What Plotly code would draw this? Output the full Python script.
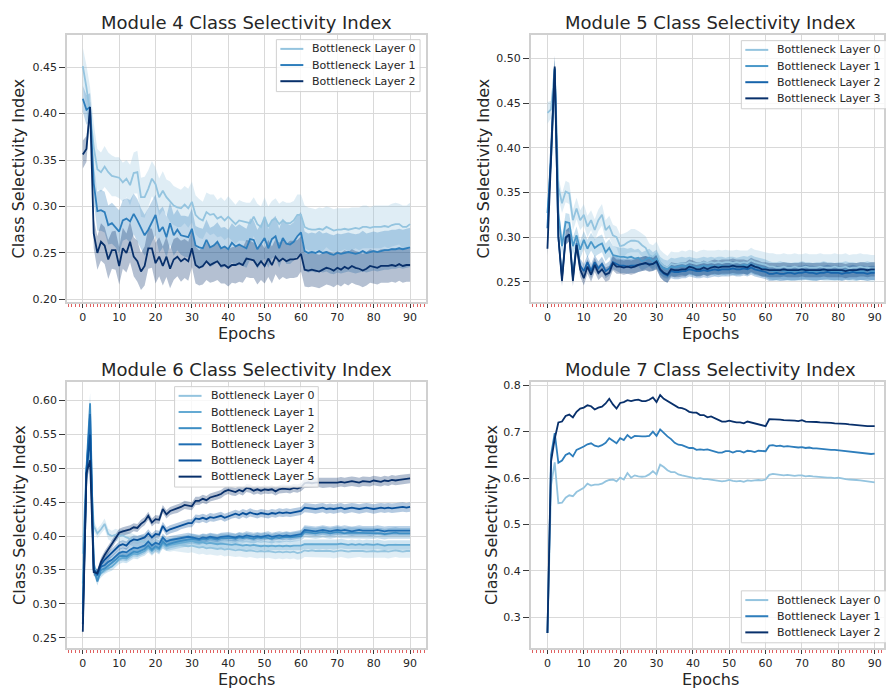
import plotly.graph_objects as go

W, H = 886, 692
FONT = "DejaVu Sans"
INK = "#262626"

epochs = list(range(91))
layer_names = ["Bottleneck Layer %d" % i for i in range(6)]

# ---------------- Module 4 (mean CSI per epoch, and CI half-width) ----------------
m4_l0 = [0.451, 0.428, 0.400, 0.364, 0.340, 0.337, 0.343, 0.337, 0.333, 0.332,
         0.331, 0.326, 0.330, 0.323, 0.336, 0.337, 0.310, 0.310, 0.319, 0.330,
         0.324, 0.310, 0.317, 0.310, 0.305, 0.301, 0.299, 0.298, 0.302, 0.298,
         0.305, 0.291, 0.287, 0.285, 0.294, 0.291, 0.292, 0.287, 0.289, 0.285,
         0.289, 0.285, 0.281, 0.285, 0.284, 0.283, 0.282, 0.289, 0.281, 0.278,
         0.289, 0.278, 0.285, 0.287, 0.281, 0.285, 0.282, 0.282, 0.285, 0.291,
         0.291, 0.278, 0.276, 0.275, 0.275, 0.276, 0.275, 0.278, 0.276, 0.274,
         0.275, 0.275, 0.276, 0.275, 0.276, 0.277, 0.276, 0.278, 0.278, 0.277,
         0.278, 0.278, 0.278, 0.279, 0.278, 0.280, 0.281, 0.281, 0.278, 0.278,
         0.281]
m4_l1 = [0.416, 0.404, 0.407, 0.325, 0.295, 0.296, 0.294, 0.280, 0.282, 0.278,
         0.273, 0.285, 0.287, 0.284, 0.292, 0.285, 0.276, 0.269, 0.275, 0.284,
         0.291, 0.273, 0.278, 0.267, 0.282, 0.269, 0.275, 0.269, 0.268, 0.267,
         0.276, 0.258, 0.256, 0.255, 0.264, 0.256, 0.258, 0.262, 0.255, 0.257,
         0.254, 0.261, 0.257, 0.259, 0.257, 0.255, 0.265, 0.264, 0.254, 0.260,
         0.266, 0.255, 0.265, 0.268, 0.255, 0.266, 0.260, 0.259, 0.262, 0.268,
         0.272, 0.252, 0.250, 0.251, 0.250, 0.252, 0.250, 0.251, 0.249, 0.248,
         0.250, 0.249, 0.250, 0.251, 0.250, 0.249, 0.250, 0.252, 0.250, 0.251,
         0.252, 0.251, 0.252, 0.253, 0.253, 0.254, 0.254, 0.255, 0.254, 0.255,
         0.256]
m4_l2 = [0.356, 0.362, 0.407, 0.271, 0.250, 0.262, 0.258, 0.243, 0.253, 0.253,
         0.236, 0.255, 0.250, 0.262, 0.246, 0.241, 0.230, 0.236, 0.255, 0.255,
         0.239, 0.246, 0.236, 0.246, 0.233, 0.243, 0.246, 0.241, 0.244, 0.241,
         0.255, 0.237, 0.234, 0.236, 0.241, 0.237, 0.239, 0.241, 0.236, 0.237,
         0.234, 0.237, 0.237, 0.239, 0.237, 0.244, 0.243, 0.242, 0.236, 0.241,
         0.236, 0.244, 0.237, 0.246, 0.241, 0.244, 0.241, 0.243, 0.243, 0.244,
         0.249, 0.232, 0.231, 0.232, 0.231, 0.230, 0.232, 0.234, 0.233, 0.231,
         0.234, 0.232, 0.235, 0.233, 0.236, 0.234, 0.233, 0.231, 0.233, 0.236,
         0.235, 0.234, 0.236, 0.236, 0.236, 0.237, 0.236, 0.238, 0.236, 0.237,
         0.237]
m4_l0_ci = [0.020, 0.024, 0.028, 0.026, 0.022, 0.021, 0.022, 0.021, 0.022, 0.021,
            0.022, 0.021, 0.020, 0.022, 0.022, 0.023, 0.021, 0.022, 0.020, 0.019,
            0.018, 0.020, 0.021, 0.019, 0.022, 0.021, 0.021, 0.020, 0.020, 0.021,
            0.022, 0.021, 0.021, 0.020, 0.021, 0.022, 0.021, 0.020, 0.021, 0.021,
            0.022, 0.021, 0.021, 0.022, 0.021, 0.021, 0.022, 0.021, 0.022, 0.022,
            0.021, 0.022, 0.021, 0.022, 0.022, 0.021, 0.022, 0.022, 0.021, 0.022,
            0.022, 0.023, 0.023, 0.023, 0.022, 0.023, 0.023, 0.022, 0.023, 0.023,
            0.023, 0.023, 0.022, 0.023, 0.023, 0.022, 0.023, 0.023, 0.023, 0.022,
            0.023, 0.023, 0.023, 0.022, 0.023, 0.023, 0.023, 0.022, 0.023, 0.023,
            0.023]
m4_l1_ci = [0.014, 0.016, 0.015, 0.020, 0.021, 0.022, 0.022, 0.021, 0.022, 0.022,
            0.023, 0.022, 0.022, 0.023, 0.022, 0.023, 0.022, 0.022, 0.023, 0.022,
            0.022, 0.023, 0.022, 0.022, 0.023, 0.022, 0.022, 0.021, 0.022, 0.022,
            0.022, 0.021, 0.021, 0.021, 0.022, 0.021, 0.021, 0.021, 0.022, 0.021,
            0.021, 0.021, 0.021, 0.022, 0.021, 0.021, 0.022, 0.021, 0.021, 0.021,
            0.022, 0.021, 0.021, 0.022, 0.021, 0.021, 0.022, 0.021, 0.021, 0.022,
            0.022, 0.021, 0.021, 0.021, 0.021, 0.022, 0.021, 0.021, 0.021, 0.021,
            0.021, 0.021, 0.021, 0.021, 0.021, 0.021, 0.021, 0.022, 0.021, 0.021,
            0.021, 0.021, 0.021, 0.021, 0.021, 0.021, 0.021, 0.021, 0.021, 0.021,
            0.021]
m4_l2_ci = [0.015, 0.014, 0.006, 0.016, 0.018, 0.020, 0.020, 0.021, 0.020, 0.021,
            0.020, 0.022, 0.021, 0.022, 0.021, 0.022, 0.020, 0.021, 0.022, 0.021,
            0.022, 0.021, 0.021, 0.022, 0.021, 0.022, 0.021, 0.022, 0.021, 0.021,
            0.020, 0.020, 0.019, 0.020, 0.020, 0.019, 0.020, 0.020, 0.019, 0.020,
            0.020, 0.019, 0.020, 0.020, 0.019, 0.020, 0.020, 0.019, 0.020, 0.020,
            0.019, 0.020, 0.020, 0.019, 0.020, 0.020, 0.019, 0.020, 0.020, 0.020,
            0.019, 0.018, 0.018, 0.018, 0.018, 0.018, 0.018, 0.018, 0.018, 0.018,
            0.018, 0.018, 0.018, 0.018, 0.018, 0.018, 0.018, 0.018, 0.018, 0.018,
            0.018, 0.018, 0.018, 0.018, 0.018, 0.018, 0.018, 0.018, 0.018, 0.018,
            0.018]

# ---------------- Module 5 ----------------
m5_l0 = [0.439, 0.443, 0.489, 0.356, 0.338, 0.351, 0.349, 0.319, 0.332, 0.319,
         0.325, 0.312, 0.319, 0.308, 0.319, 0.325, 0.308, 0.312, 0.302, 0.300,
         0.290, 0.291, 0.294, 0.296, 0.296, 0.295, 0.291, 0.288, 0.280, 0.278,
         0.282, 0.272, 0.268, 0.266, 0.270, 0.269, 0.270, 0.271, 0.270, 0.272,
         0.271, 0.270, 0.271, 0.272, 0.271, 0.272, 0.271, 0.272, 0.271, 0.272,
         0.272, 0.271, 0.272, 0.271, 0.272, 0.271, 0.274, 0.272, 0.271, 0.270,
         0.269, 0.267, 0.267, 0.266, 0.266, 0.267, 0.266, 0.266, 0.267, 0.266,
         0.266, 0.267, 0.266, 0.266, 0.266, 0.267, 0.266, 0.266, 0.266, 0.267,
         0.266, 0.266, 0.267, 0.265, 0.266, 0.266, 0.267, 0.266, 0.266, 0.265,
         0.265]
m5_l1 = [0.327, 0.386, 0.489, 0.327, 0.290, 0.317, 0.316, 0.290, 0.302, 0.286,
         0.297, 0.287, 0.295, 0.288, 0.291, 0.293, 0.283, 0.288, 0.280, 0.279,
         0.278, 0.278, 0.277, 0.278, 0.276, 0.277, 0.273, 0.275, 0.277, 0.273,
         0.276, 0.268, 0.265, 0.264, 0.267, 0.266, 0.267, 0.268, 0.267, 0.268,
         0.267, 0.266, 0.267, 0.268, 0.267, 0.268, 0.267, 0.268, 0.268, 0.267,
         0.268, 0.268, 0.267, 0.268, 0.269, 0.268, 0.270, 0.268, 0.267, 0.266,
         0.265, 0.263, 0.262, 0.262, 0.263, 0.262, 0.262, 0.261, 0.262, 0.262,
         0.263, 0.262, 0.262, 0.261, 0.262, 0.262, 0.263, 0.262, 0.262, 0.261,
         0.262, 0.262, 0.263, 0.262, 0.262, 0.261, 0.262, 0.262, 0.263, 0.262,
         0.262]
m5_l2 = [0.310, 0.400, 0.488, 0.300, 0.255, 0.300, 0.303, 0.255, 0.293, 0.268,
         0.262, 0.272, 0.262, 0.272, 0.265, 0.270, 0.262, 0.265, 0.272, 0.270,
         0.268, 0.268, 0.267, 0.268, 0.268, 0.269, 0.270, 0.271, 0.270, 0.270,
         0.272, 0.263, 0.259, 0.257, 0.262, 0.261, 0.261, 0.262, 0.262, 0.264,
         0.263, 0.262, 0.262, 0.263, 0.262, 0.263, 0.264, 0.263, 0.264, 0.264,
         0.264, 0.265, 0.264, 0.264, 0.265, 0.264, 0.266, 0.264, 0.263, 0.262,
         0.261, 0.259, 0.259, 0.260, 0.259, 0.259, 0.260, 0.260, 0.259, 0.260,
         0.260, 0.261, 0.260, 0.260, 0.259, 0.260, 0.260, 0.261, 0.260, 0.260,
         0.260, 0.259, 0.260, 0.260, 0.261, 0.260, 0.260, 0.260, 0.259, 0.260,
         0.260]
m5_l3 = [0.287, 0.397, 0.491, 0.301, 0.251, 0.299, 0.303, 0.251, 0.291, 0.264,
         0.254, 0.267, 0.258, 0.269, 0.260, 0.264, 0.258, 0.260, 0.271, 0.267,
         0.267, 0.266, 0.267, 0.266, 0.267, 0.269, 0.270, 0.271, 0.269, 0.270,
         0.273, 0.264, 0.260, 0.258, 0.264, 0.263, 0.263, 0.264, 0.264, 0.267,
         0.266, 0.264, 0.264, 0.266, 0.264, 0.266, 0.267, 0.266, 0.267, 0.267,
         0.267, 0.268, 0.267, 0.267, 0.267, 0.266, 0.269, 0.267, 0.266, 0.264,
         0.264, 0.263, 0.263, 0.263, 0.263, 0.264, 0.263, 0.263, 0.263, 0.263,
         0.264, 0.263, 0.263, 0.263, 0.263, 0.263, 0.264, 0.263, 0.263, 0.263,
         0.263, 0.263, 0.262, 0.263, 0.263, 0.263, 0.264, 0.264, 0.263, 0.264,
         0.264]
m5_l0_ci = [0.012, 0.010, 0.014, 0.012, 0.011, 0.012, 0.012, 0.012, 0.012, 0.011,
            0.012, 0.012, 0.011, 0.012, 0.012, 0.012, 0.011, 0.012, 0.012, 0.012,
            0.013, 0.013, 0.012, 0.013, 0.013, 0.012, 0.013, 0.013, 0.013, 0.013,
            0.013, 0.014, 0.014, 0.013, 0.014, 0.014, 0.013, 0.014, 0.014, 0.014,
            0.014, 0.013, 0.014, 0.014, 0.014, 0.013, 0.014, 0.014, 0.014, 0.014,
            0.013, 0.014, 0.014, 0.014, 0.013, 0.014, 0.014, 0.014, 0.014, 0.014,
            0.014, 0.015, 0.015, 0.015, 0.015, 0.015, 0.015, 0.015, 0.015, 0.015,
            0.015, 0.015, 0.015, 0.015, 0.015, 0.015, 0.015, 0.015, 0.015, 0.015,
            0.015, 0.015, 0.015, 0.015, 0.015, 0.015, 0.015, 0.015, 0.015, 0.015,
            0.015]
m5_l1_ci = [0.010, 0.010, 0.012, 0.010, 0.010, 0.010, 0.010, 0.010, 0.010, 0.010,
            0.010, 0.010, 0.010, 0.010, 0.010, 0.010, 0.010, 0.010, 0.010, 0.010,
            0.010, 0.010, 0.010, 0.010, 0.010, 0.010, 0.010, 0.010, 0.010, 0.010,
            0.010, 0.010, 0.010, 0.010, 0.010, 0.010, 0.010, 0.010, 0.010, 0.010,
            0.010, 0.010, 0.010, 0.010, 0.010, 0.010, 0.010, 0.010, 0.010, 0.010,
            0.010, 0.010, 0.010, 0.010, 0.010, 0.010, 0.010, 0.010, 0.010, 0.010,
            0.010, 0.010, 0.010, 0.010, 0.010, 0.010, 0.010, 0.010, 0.010, 0.010,
            0.010, 0.010, 0.010, 0.010, 0.010, 0.010, 0.010, 0.010, 0.010, 0.010,
            0.010, 0.010, 0.010, 0.010, 0.010, 0.010, 0.010, 0.010, 0.010, 0.010,
            0.010]
m5_l2_ci = [0.008, 0.009, 0.010, 0.008, 0.007, 0.008, 0.008, 0.007, 0.008, 0.008,
            0.008, 0.008, 0.008, 0.008, 0.008, 0.008, 0.008, 0.008, 0.008, 0.008,
            0.008, 0.008, 0.008, 0.008, 0.008, 0.008, 0.008, 0.008, 0.008, 0.008,
            0.008, 0.008, 0.008, 0.008, 0.008, 0.008, 0.008, 0.008, 0.008, 0.008,
            0.008, 0.008, 0.008, 0.008, 0.008, 0.008, 0.008, 0.008, 0.008, 0.008,
            0.008, 0.008, 0.008, 0.008, 0.008, 0.008, 0.008, 0.008, 0.008, 0.008,
            0.008, 0.008, 0.008, 0.008, 0.008, 0.008, 0.008, 0.008, 0.008, 0.008,
            0.008, 0.008, 0.008, 0.008, 0.008, 0.008, 0.008, 0.008, 0.008, 0.008,
            0.008, 0.008, 0.008, 0.008, 0.008, 0.008, 0.008, 0.008, 0.008, 0.008,
            0.008]
m5_l3_ci = [0.008, 0.009, 0.012, 0.008, 0.006, 0.008, 0.008, 0.006, 0.008, 0.008,
            0.008, 0.008, 0.008, 0.008, 0.008, 0.008, 0.008, 0.008, 0.008, 0.008,
            0.008, 0.008, 0.008, 0.008, 0.008, 0.008, 0.008, 0.008, 0.008, 0.008,
            0.009, 0.009, 0.009, 0.009, 0.008, 0.008, 0.008, 0.008, 0.008, 0.008,
            0.008, 0.008, 0.008, 0.008, 0.008, 0.008, 0.008, 0.008, 0.008, 0.008,
            0.008, 0.008, 0.008, 0.008, 0.008, 0.008, 0.008, 0.008, 0.008, 0.008,
            0.008, 0.008, 0.008, 0.008, 0.008, 0.008, 0.008, 0.008, 0.008, 0.008,
            0.008, 0.008, 0.008, 0.008, 0.008, 0.008, 0.008, 0.008, 0.008, 0.008,
            0.008, 0.008, 0.008, 0.008, 0.008, 0.008, 0.008, 0.008, 0.008, 0.008,
            0.008]

# ---------------- Module 6 ----------------
m6_l0 = [0.374, 0.500, 0.520, 0.415, 0.404, 0.410, 0.418, 0.403, 0.400, 0.402,
         0.400, 0.401, 0.398, 0.396, 0.394, 0.392, 0.393, 0.391, 0.392, 0.389,
         0.390, 0.388, 0.391, 0.388, 0.387, 0.388, 0.387, 0.386, 0.386, 0.385,
         0.386, 0.384, 0.383, 0.384, 0.382, 0.383, 0.382, 0.381, 0.382, 0.380,
         0.381, 0.380, 0.379, 0.380, 0.379, 0.378, 0.379, 0.378, 0.377, 0.378,
         0.377, 0.378, 0.377, 0.376, 0.377, 0.376, 0.377, 0.376, 0.377, 0.375,
         0.376, 0.379, 0.378, 0.379, 0.378, 0.378, 0.379, 0.378, 0.378, 0.377,
         0.378, 0.379, 0.378, 0.377, 0.378, 0.378, 0.379, 0.378, 0.377, 0.378,
         0.378, 0.377, 0.378, 0.378, 0.377, 0.378, 0.379, 0.378, 0.377, 0.378,
         0.378]
m6_l1 = [0.330, 0.498, 0.560, 0.360, 0.338, 0.345, 0.350, 0.353, 0.355, 0.360,
         0.366, 0.368, 0.367, 0.371, 0.374, 0.373, 0.376, 0.378, 0.383, 0.378,
         0.383, 0.380, 0.389, 0.385, 0.387, 0.388, 0.389, 0.390, 0.391, 0.392,
         0.393, 0.391, 0.390, 0.391, 0.389, 0.390, 0.389, 0.388, 0.389, 0.388,
         0.388, 0.387, 0.388, 0.387, 0.386, 0.387, 0.386, 0.387, 0.386, 0.385,
         0.386, 0.385, 0.386, 0.385, 0.386, 0.385, 0.386, 0.385, 0.386, 0.386,
         0.386, 0.388, 0.388, 0.387, 0.388, 0.387, 0.388, 0.387, 0.388, 0.387,
         0.388, 0.389, 0.388, 0.387, 0.388, 0.387, 0.388, 0.387, 0.388, 0.387,
         0.387, 0.388, 0.387, 0.386, 0.387, 0.387, 0.388, 0.387, 0.387, 0.387,
         0.387]
m6_l2 = [0.300, 0.500, 0.596, 0.352, 0.333, 0.350, 0.352, 0.356, 0.360, 0.365,
         0.370, 0.371, 0.370, 0.374, 0.377, 0.376, 0.379, 0.381, 0.386, 0.380,
         0.385, 0.382, 0.392, 0.387, 0.389, 0.391, 0.392, 0.393, 0.394, 0.395,
         0.396, 0.395, 0.394, 0.396, 0.395, 0.397, 0.396, 0.395, 0.397, 0.397,
         0.398, 0.397, 0.396, 0.398, 0.397, 0.398, 0.397, 0.396, 0.398, 0.397,
         0.398, 0.397, 0.396, 0.398, 0.397, 0.398, 0.399, 0.398, 0.399, 0.400,
         0.400, 0.406, 0.405, 0.405, 0.404, 0.405, 0.406, 0.405, 0.404, 0.405,
         0.406, 0.405, 0.404, 0.405, 0.405, 0.404, 0.405, 0.404, 0.405, 0.404,
         0.404, 0.405, 0.404, 0.403, 0.404, 0.404, 0.405, 0.404, 0.404, 0.404,
         0.404]
m6_l3 = [0.285, 0.495, 0.580, 0.350, 0.342, 0.355, 0.357, 0.362, 0.365, 0.370,
         0.375, 0.377, 0.376, 0.380, 0.383, 0.382, 0.384, 0.386, 0.392, 0.386,
         0.390, 0.388, 0.398, 0.392, 0.394, 0.395, 0.396, 0.397, 0.398, 0.399,
         0.398, 0.397, 0.396, 0.398, 0.397, 0.399, 0.398, 0.397, 0.399, 0.400,
         0.400, 0.399, 0.398, 0.400, 0.399, 0.401, 0.400, 0.399, 0.400, 0.399,
         0.400, 0.401, 0.399, 0.400, 0.401, 0.400, 0.401, 0.400, 0.401, 0.402,
         0.403, 0.409, 0.408, 0.408, 0.407, 0.408, 0.409, 0.408, 0.407, 0.408,
         0.409, 0.408, 0.409, 0.408, 0.407, 0.408, 0.409, 0.408, 0.408, 0.407,
         0.408, 0.409, 0.408, 0.407, 0.408, 0.408, 0.409, 0.408, 0.408, 0.408,
         0.408]
m6_l4 = [0.270, 0.490, 0.550, 0.350, 0.345, 0.358, 0.365, 0.370, 0.375, 0.380,
         0.386, 0.388, 0.386, 0.392, 0.395, 0.394, 0.396, 0.398, 0.404, 0.398,
         0.403, 0.402, 0.415, 0.407, 0.410, 0.412, 0.413, 0.416, 0.418, 0.419,
         0.419, 0.426, 0.425, 0.427, 0.425, 0.428, 0.427, 0.428, 0.430, 0.427,
         0.429, 0.432, 0.433, 0.431, 0.434, 0.432, 0.435, 0.433, 0.432, 0.434,
         0.433, 0.432, 0.434, 0.433, 0.435, 0.434, 0.435, 0.434, 0.435, 0.436,
         0.437, 0.442, 0.441, 0.441, 0.440, 0.441, 0.442, 0.440, 0.441, 0.440,
         0.441, 0.442, 0.440, 0.441, 0.442, 0.441, 0.440, 0.441, 0.442, 0.441,
         0.440, 0.441, 0.442, 0.441, 0.442, 0.441, 0.442, 0.442, 0.443, 0.442,
         0.443]
m6_l5 = [0.259, 0.493, 0.512, 0.347, 0.345, 0.362, 0.372, 0.380, 0.388, 0.397,
         0.405, 0.407, 0.408, 0.410, 0.413, 0.412, 0.418, 0.422, 0.430, 0.420,
         0.425, 0.424, 0.440, 0.432, 0.437, 0.439, 0.440, 0.443, 0.446, 0.445,
         0.444, 0.452, 0.452, 0.455, 0.453, 0.457, 0.458, 0.460, 0.462, 0.466,
         0.468, 0.466, 0.465, 0.468, 0.466, 0.471, 0.470, 0.467, 0.469, 0.467,
         0.469, 0.468, 0.469, 0.466, 0.469, 0.470, 0.470, 0.469, 0.471, 0.470,
         0.472, 0.478, 0.479, 0.478, 0.479, 0.479, 0.478, 0.478, 0.479, 0.478,
         0.479, 0.480, 0.479, 0.480, 0.481, 0.480, 0.479, 0.481, 0.480, 0.480,
         0.482, 0.481, 0.480, 0.482, 0.481, 0.483, 0.482, 0.483, 0.484, 0.484,
         0.485]
m6_l0_ci = [0.012, 0.010, 0.015, 0.008, 0.007, 0.007, 0.008, 0.008, 0.008, 0.009,
            0.009, 0.009, 0.009, 0.009, 0.010, 0.009, 0.009, 0.010, 0.009, 0.010,
            0.010, 0.009, 0.010, 0.010, 0.010, 0.010, 0.010, 0.010, 0.010, 0.010,
            0.010, 0.010, 0.010, 0.010, 0.010, 0.010, 0.010, 0.010, 0.010, 0.010,
            0.010, 0.010, 0.010, 0.010, 0.010, 0.010, 0.010, 0.010, 0.010, 0.010,
            0.010, 0.010, 0.010, 0.010, 0.010, 0.010, 0.010, 0.010, 0.010, 0.010,
            0.010, 0.010, 0.010, 0.010, 0.010, 0.010, 0.010, 0.010, 0.010, 0.010,
            0.010, 0.010, 0.010, 0.010, 0.010, 0.010, 0.010, 0.010, 0.010, 0.010,
            0.010, 0.010, 0.010, 0.010, 0.010, 0.010, 0.010, 0.010, 0.010, 0.010,
            0.010]
m6_l1_ci = [0.010, 0.010, 0.015, 0.007, 0.006, 0.006, 0.006, 0.006, 0.006, 0.006,
            0.007, 0.007, 0.007, 0.007, 0.007, 0.007, 0.007, 0.007, 0.007, 0.007,
            0.007, 0.007, 0.007, 0.007, 0.007, 0.007, 0.007, 0.007, 0.007, 0.007,
            0.007, 0.007, 0.007, 0.007, 0.007, 0.007, 0.007, 0.007, 0.007, 0.007,
            0.007, 0.007, 0.007, 0.007, 0.007, 0.007, 0.007, 0.007, 0.007, 0.007,
            0.007, 0.007, 0.007, 0.007, 0.007, 0.007, 0.007, 0.007, 0.007, 0.007,
            0.007, 0.007, 0.007, 0.007, 0.007, 0.007, 0.007, 0.007, 0.007, 0.007,
            0.007, 0.007, 0.007, 0.007, 0.007, 0.007, 0.007, 0.007, 0.007, 0.007,
            0.007, 0.007, 0.007, 0.007, 0.007, 0.007, 0.007, 0.007, 0.007, 0.007,
            0.007]
m6_l2_ci = [0.010, 0.010, 0.015, 0.007, 0.006, 0.006, 0.006, 0.006, 0.006, 0.006,
            0.007, 0.007, 0.007, 0.007, 0.007, 0.007, 0.007, 0.007, 0.007, 0.007,
            0.007, 0.007, 0.007, 0.007, 0.007, 0.007, 0.007, 0.007, 0.007, 0.007,
            0.007, 0.007, 0.007, 0.007, 0.007, 0.007, 0.007, 0.007, 0.007, 0.007,
            0.007, 0.007, 0.007, 0.007, 0.007, 0.007, 0.007, 0.007, 0.007, 0.007,
            0.007, 0.007, 0.007, 0.007, 0.007, 0.007, 0.007, 0.007, 0.007, 0.007,
            0.007, 0.008, 0.008, 0.008, 0.008, 0.008, 0.008, 0.008, 0.008, 0.008,
            0.008, 0.008, 0.008, 0.008, 0.008, 0.008, 0.008, 0.008, 0.008, 0.008,
            0.008, 0.008, 0.008, 0.008, 0.008, 0.008, 0.008, 0.008, 0.008, 0.008,
            0.008]
m6_l3_ci = [0.010, 0.010, 0.014, 0.007, 0.006, 0.006, 0.006, 0.006, 0.006, 0.006,
            0.006, 0.006, 0.006, 0.006, 0.006, 0.006, 0.006, 0.006, 0.006, 0.006,
            0.006, 0.006, 0.006, 0.006, 0.006, 0.006, 0.006, 0.006, 0.006, 0.006,
            0.006, 0.006, 0.006, 0.006, 0.006, 0.006, 0.006, 0.006, 0.006, 0.006,
            0.006, 0.006, 0.006, 0.006, 0.006, 0.006, 0.006, 0.006, 0.006, 0.006,
            0.006, 0.006, 0.006, 0.006, 0.006, 0.006, 0.006, 0.006, 0.006, 0.006,
            0.006, 0.007, 0.007, 0.007, 0.007, 0.007, 0.007, 0.007, 0.007, 0.007,
            0.007, 0.007, 0.007, 0.007, 0.007, 0.007, 0.007, 0.007, 0.007, 0.007,
            0.007, 0.007, 0.007, 0.007, 0.007, 0.007, 0.007, 0.007, 0.007, 0.007,
            0.007]
m6_l4_ci = [0.010, 0.010, 0.014, 0.006, 0.006, 0.006, 0.006, 0.006, 0.006, 0.006,
            0.006, 0.006, 0.006, 0.006, 0.006, 0.006, 0.006, 0.006, 0.006, 0.006,
            0.006, 0.006, 0.006, 0.006, 0.006, 0.006, 0.006, 0.006, 0.006, 0.006,
            0.006, 0.006, 0.006, 0.006, 0.006, 0.006, 0.006, 0.006, 0.006, 0.006,
            0.006, 0.006, 0.006, 0.006, 0.006, 0.006, 0.006, 0.006, 0.006, 0.006,
            0.006, 0.006, 0.006, 0.006, 0.006, 0.006, 0.006, 0.006, 0.006, 0.006,
            0.006, 0.007, 0.007, 0.007, 0.007, 0.007, 0.007, 0.007, 0.007, 0.007,
            0.007, 0.007, 0.007, 0.007, 0.007, 0.007, 0.007, 0.007, 0.007, 0.007,
            0.007, 0.007, 0.007, 0.007, 0.007, 0.007, 0.007, 0.007, 0.007, 0.007,
            0.007]
m6_l5_ci = [0.008, 0.010, 0.012, 0.006, 0.006, 0.006, 0.006, 0.006, 0.006, 0.006,
            0.006, 0.006, 0.006, 0.006, 0.006, 0.006, 0.006, 0.006, 0.006, 0.006,
            0.006, 0.006, 0.006, 0.006, 0.006, 0.006, 0.006, 0.006, 0.006, 0.006,
            0.006, 0.006, 0.006, 0.006, 0.006, 0.006, 0.006, 0.006, 0.006, 0.006,
            0.006, 0.006, 0.006, 0.006, 0.006, 0.006, 0.006, 0.006, 0.006, 0.006,
            0.006, 0.006, 0.006, 0.006, 0.006, 0.006, 0.006, 0.006, 0.006, 0.006,
            0.006, 0.007, 0.007, 0.007, 0.007, 0.007, 0.007, 0.007, 0.007, 0.007,
            0.007, 0.007, 0.007, 0.007, 0.007, 0.007, 0.007, 0.007, 0.007, 0.007,
            0.007, 0.007, 0.007, 0.007, 0.007, 0.007, 0.007, 0.007, 0.007, 0.007,
            0.007]

# ---------------- Module 7 ----------------
m7_l0 = [0.266, 0.585, 0.634, 0.546, 0.547, 0.558, 0.563, 0.561, 0.570, 0.574,
         0.579, 0.588, 0.584, 0.586, 0.586, 0.588, 0.593, 0.596, 0.597, 0.593,
         0.601, 0.597, 0.611, 0.601, 0.606, 0.604, 0.603, 0.604, 0.608, 0.615,
         0.608, 0.629, 0.624, 0.617, 0.613, 0.613, 0.608, 0.606, 0.604, 0.603,
         0.601, 0.599, 0.600, 0.598, 0.598, 0.597, 0.596, 0.595, 0.593, 0.594,
         0.596, 0.594, 0.593, 0.594, 0.592, 0.595, 0.594, 0.595, 0.596, 0.595,
         0.597, 0.607, 0.609, 0.608, 0.607, 0.606, 0.607, 0.606, 0.605, 0.606,
         0.606, 0.604, 0.605, 0.604, 0.603, 0.603, 0.602, 0.601, 0.601, 0.600,
         0.601, 0.599, 0.598, 0.597, 0.597, 0.596, 0.595, 0.594, 0.593, 0.592,
         0.591]
m7_l1 = [0.266, 0.650, 0.697, 0.633, 0.638, 0.650, 0.654, 0.647, 0.661, 0.664,
         0.668, 0.673, 0.675, 0.670, 0.668, 0.671, 0.676, 0.686, 0.681, 0.675,
         0.686, 0.682, 0.693, 0.686, 0.691, 0.690, 0.690, 0.690, 0.691, 0.700,
         0.691, 0.705, 0.697, 0.690, 0.684, 0.676, 0.672, 0.671, 0.668, 0.665,
         0.665, 0.661, 0.662, 0.661, 0.662, 0.660, 0.658, 0.655, 0.655, 0.658,
         0.658, 0.655, 0.658, 0.658, 0.655, 0.659, 0.658, 0.656, 0.659, 0.658,
         0.658, 0.670, 0.671, 0.669, 0.670, 0.668, 0.669, 0.668, 0.667, 0.666,
         0.667, 0.665, 0.666, 0.664, 0.664, 0.663, 0.663, 0.662, 0.661, 0.661,
         0.660, 0.659, 0.658, 0.658, 0.656, 0.655, 0.654, 0.653, 0.652, 0.652,
         0.653]
m7_l2 = [0.266, 0.636, 0.685, 0.720, 0.722, 0.734, 0.737, 0.731, 0.743, 0.750,
         0.752, 0.757, 0.755, 0.748, 0.752, 0.754, 0.761, 0.771, 0.759, 0.750,
         0.762, 0.764, 0.768, 0.766, 0.768, 0.769, 0.766, 0.766, 0.769, 0.774,
         0.764, 0.779, 0.771, 0.766, 0.762, 0.757, 0.752, 0.751, 0.748, 0.743,
         0.741, 0.741, 0.736, 0.736, 0.731, 0.733, 0.729, 0.725, 0.722, 0.722,
         0.724, 0.722, 0.720, 0.720, 0.718, 0.722, 0.720, 0.718, 0.717, 0.714,
         0.712, 0.727, 0.727, 0.726, 0.726, 0.725, 0.725, 0.724, 0.724, 0.723,
         0.725, 0.722, 0.722, 0.721, 0.721, 0.720, 0.720, 0.719, 0.719, 0.718,
         0.718, 0.717, 0.717, 0.716, 0.715, 0.715, 0.714, 0.713, 0.712, 0.712,
         0.712]

x_ticks = list(range(0, 91, 10))


# ---------------- helpers ----------------
def px(x):
    return x / W


def py(y):
    return 1 - y / H


BLUES_STOPS = [(0.0, "#f7fbff"), (0.125, "#deebf7"), (0.25, "#c6dbef"),
               (0.375, "#9ecae1"), (0.5, "#6baed6"), (0.625, "#4292c6"),
               (0.75, "#2171b5"), (0.875, "#08519c"), (1.0, "#08306b")]


def _rgb(h):
    h = h.lstrip("#")
    return tuple(int(h[i:i + 2], 16) for i in (0, 2, 4))


def blues(t):
    for (t0, c0), (t1, c1) in zip(BLUES_STOPS[:-1], BLUES_STOPS[1:]):
        if t0 <= t <= t1:
            f = (t - t0) / (t1 - t0)
            a, b = _rgb(c0), _rgb(c1)
            return tuple(round(a[k] + (b[k] - a[k]) * f) for k in range(3))
    return _rgb(BLUES_STOPS[-1][1])


def palette(n):
    return [blues(0.4 + 0.6 * i / (n - 1)) for i in range(n)]


def css(c, a=None):
    if a is None:
        return "rgb(%d,%d,%d)" % c
    return "rgba(%d,%d,%d,%.2f)" % (c + (a,))


panels = [
    dict(title="Module 4 Class Selectivity Index",
         means=[m4_l0, m4_l1, m4_l2], cis=[m4_l0_ci, m4_l1_ci, m4_l2_ci],
         box=(67, 33, 427, 303), xr=(-4.39, 94.39), yr=(0.1968, 0.4849),
         ytick0=0.20, ydtick=0.05, yfmt=".2f", ylab_x=19,
         leg=(277, 38, 421)),
    dict(title="Module 5 Class Selectivity Index",
         means=[m5_l0, m5_l1, m5_l2, m5_l3],
         cis=[m5_l0_ci, m5_l1_ci, m5_l2_ci, m5_l3_ci],
         box=(532, 33, 886, 303), xr=(-4.58, 92.56), yr=(0.2270, 0.5266),
         ytick0=0.25, ydtick=0.05, yfmt=".2f", ylab_x=485,
         leg=(743, 39, 890)),
    dict(title="Module 6 Class Selectivity Index",
         means=[m6_l0, m6_l1, m6_l2, m6_l3, m6_l4, m6_l5],
         cis=[m6_l0_ci, m6_l1_ci, m6_l2_ci, m6_l3_ci, m6_l4_ci, m6_l5_ci],
         box=(67, 383, 427, 652), xr=(-4.39, 94.39), yr=(0.2344, 0.6278),
         ytick0=0.25, ydtick=0.05, yfmt=".2f", ylab_x=19,
         leg=(175, 388, 319)),
    dict(title="Module 7 Class Selectivity Index",
         means=[m7_l0, m7_l1, m7_l2], cis=None,
         box=(532, 383, 886, 652), xr=(-4.58, 92.56), yr=(0.2331, 0.8079),
         ytick0=0.3, ydtick=0.1, yfmt=".1f", ylab_x=492,
         leg=(743, 594, 890)),
]

fig = go.Figure()
shapes = []
annotations = []
layout_axes = {}

for k, p in enumerate(panels):
    idx = "" if k == 0 else str(k + 1)
    xa, ya = "x" + idx, "y" + idx
    x0, y0, x1, y1 = p["box"]
    cols = palette(len(p["means"]))

    # confidence bands first, lines on top
    if p["cis"] is not None:
        for c, mean, ci in zip(cols, p["means"], p["cis"]):
            upper = [m + h for m, h in zip(mean, ci)]
            lower = [m - h for m, h in zip(mean, ci)]
            fig.add_trace(go.Scatter(
                x=epochs + epochs[::-1], y=upper + lower[::-1],
                fill="toself", fillcolor=css(c, 0.3), line=dict(width=0),
                hoverinfo="skip", showlegend=False, xaxis=xa, yaxis=ya))
    for c, mean, name in zip(cols, p["means"], layer_names):
        fig.add_trace(go.Scatter(
            x=epochs, y=mean, mode="lines", name=name,
            line=dict(color=css(c), width=1.8),
            showlegend=False, xaxis=xa, yaxis=ya))

    tickfont = dict(family=FONT, size=11, color=INK)
    layout_axes["xaxis" + idx] = dict(
        domain=[px(x0), px(x1)], range=list(p["xr"]), anchor=ya,
        tickmode="array", tickvals=x_ticks, ticks="outside", ticklen=4,
        tickwidth=1.2, tickcolor="#3a3a3a", tickfont=tickfont,
        showgrid=True, gridcolor="#d9d9d9", gridwidth=1.2,
        showline=True, linecolor="#d0d0d0", linewidth=1.5, mirror=True,
        zeroline=False, fixedrange=True,
        minor=dict(ticks="outside", ticklen=2.5, tickwidth=1,
                   tickcolor="#e06060", tickmode="linear", tick0=0, dtick=1,
                   showgrid=False))
    layout_axes["yaxis" + idx] = dict(
        domain=[py(y1), py(y0)], range=list(p["yr"]), anchor=xa,
        tickmode="linear", tick0=p["ytick0"], dtick=p["ydtick"],
        tickformat=p["yfmt"], ticks="outside", ticklen=6, tickwidth=1.2,
        tickcolor="#3a3a3a", tickfont=tickfont,
        showgrid=True, gridcolor="#d9d9d9", gridwidth=1.2,
        showline=True, linecolor="#d0d0d0", linewidth=1.5, mirror=True,
        zeroline=False, fixedrange=True)

    # titles
    xc = (x0 + (893 if x1 >= 886 else x1)) / 2
    annotations.append(dict(text=p["title"], x=px(xc), y=py(y0 - 12),
                            xref="paper", yref="paper", showarrow=False,
                            xanchor="center", yanchor="middle",
                            font=dict(family=FONT, size=18, color=INK)))
    annotations.append(dict(text="Epochs", x=px(xc), y=py(y1 + 31),
                            xref="paper", yref="paper", showarrow=False,
                            xanchor="center", yanchor="middle",
                            font=dict(family=FONT, size=16, color=INK)))
    annotations.append(dict(text="Class Selectivity Index", x=px(p["ylab_x"]),
                            y=py((y0 + y1) / 2), xref="paper", yref="paper",
                            showarrow=False, textangle=-90,
                            xanchor="center", yanchor="middle",
                            font=dict(family=FONT, size=16, color=INK)))

    # legend box
    lx0, ly0, lx1 = p["leg"]
    n = len(p["means"])
    step = 16.3
    first = ly0 + 9.3
    ly1 = first + step * (n - 1) + 10.5
    shapes.append(dict(type="rect", xref="paper", yref="paper",
                       x0=px(lx0), x1=px(lx1), y0=py(ly1), y1=py(ly0),
                       fillcolor="rgba(255,255,255,0.8)",
                       line=dict(color="#d0d0d0", width=1), layer="above"))
    for i, (c, name) in enumerate(zip(cols, layer_names)):
        yc = first + step * i
        shapes.append(dict(type="line", xref="paper", yref="paper",
                           x0=px(lx0 + 4), x1=px(lx0 + 27),
                           y0=py(yc), y1=py(yc),
                           line=dict(color=css(c), width=2), layer="above"))
        annotations.append(dict(text=name, x=px(lx0 + 34), y=py(yc),
                                xref="paper", yref="paper", showarrow=False,
                                xanchor="left", yanchor="middle",
                                font=dict(family=FONT, size=11, color=INK)))

fig.update_layout(
    width=W, height=H, margin=dict(l=0, r=0, t=0, b=0),
    paper_bgcolor="white", plot_bgcolor="white", showlegend=False,
    font=dict(family=FONT, color=INK),
    shapes=shapes, annotations=annotations, **layout_axes)

fig.write_html("out.html")
